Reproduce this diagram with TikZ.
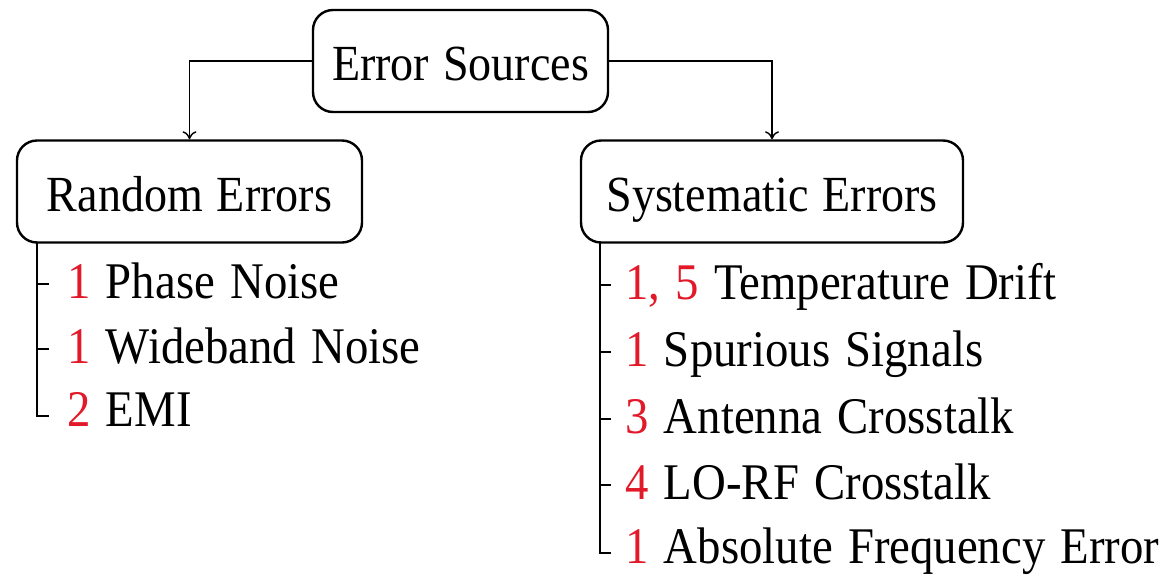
\documentclass[tikz,border=0pt]{standalone}
\usepackage{fontspec}
\setmainfont{Liberation Serif}[FakeStretch=0.91]
\usetikzlibrary{arrows.meta}
\definecolor{numred}{RGB}{225,25,40}
\newcommand\myitemfont{\fontsize{25.7}{30}\selectfont\spaceskip=7.6pt\relax}
\newcommand\myboxfont{\fontsize{25.3}{30}\selectfont\spaceskip=7pt\relax}
\begin{document}
\begin{tikzpicture}[x=0.5pt,y=-0.5pt,
  box/.style={draw, line width=1.2pt, rounded corners=10pt, minimum height=51pt,
    inner sep=0pt, text height=20pt, text depth=0.5pt, font=\myboxfont},
  item/.style={anchor=west, inner sep=0pt, text height=16pt, text depth=2pt,
    font=\myitemfont},
  conn/.style={line width=0.7pt},
  arr/.style={conn, -{To[length=4pt,width=7pt]}}]
\useasboundingbox (0,0) rectangle (1176,584);
\node[box, minimum width=147.5pt] (es) at (460.5,61) {Error Sources};
\node[box, minimum width=172.5pt] (re) at (189.5,191.5) {Random Errors};
\node[box, minimum width=191pt] (se) at (772,191.5) {Systematic Errors};
\draw[arr] (es.west) -| (re.north);
\draw[arr] (es.east) -| (se.north);
% left list
\node[item] (l1) at (67,284) {\textcolor{numred}{1} Phase Noise};
\node[item] (l2) at (67,349) {\textcolor{numred}{1} Wideband Noise};
\node[item] (l3) at (67,412) {\textcolor{numred}{2} EMI};
\coordinate (lt) at (37,243);
\draw[conn] (lt) |- ([xshift=-9pt,yshift=-2pt]l3.west);
\draw[conn] (lt |- l1.west) -- ([xshift=-9pt]l1.west);
\draw[conn] (lt |- l2.west) -- ([xshift=-9pt]l2.west);
% right list
\node[item] (r1) at (625,285) {\textcolor{numred}{1, 5} Temperature Drift};
\node[item] (r2) at (625,352) {\textcolor{numred}{1} Spurious Signals};
\node[item] (r3) at (625,419) {\textcolor{numred}{3} Antenna Crosstalk};
\node[item] (r4) at (625,485) {\textcolor{numred}{4} LO-RF Crosstalk};
\node[item] (r5) at (625,549) {\textcolor{numred}{1} Absolute Frequency Error};
\coordinate (rt) at (600,243);
\draw[conn] (rt) |- ([xshift=-7pt,yshift=-2pt]r5.west);
\draw[conn] (rt |- r1.west) -- ([xshift=-7pt]r1.west);
\draw[conn] (rt |- r2.west) -- ([xshift=-7pt]r2.west);
\draw[conn] (rt |- r3.west) -- ([xshift=-7pt]r3.west);
\draw[conn] (rt |- r4.west) -- ([xshift=-7pt]r4.west);
\end{tikzpicture}
\end{document}
